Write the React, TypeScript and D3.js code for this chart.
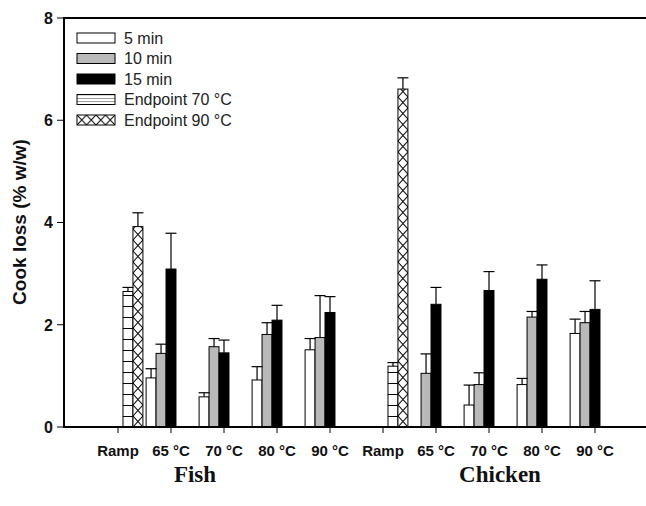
import React from "react";
import * as d3 from "d3";

const categories = ["Ramp", "65 °C", "70 °C", "80 °C", "90 °C", "Ramp", "65 °C", "70 °C", "80 °C", "90 °C"];
const groupLabels = ["Fish", "Chicken"];
const series = ["5 min", "10 min", "15 min", "Endpoint 70 °C", "Endpoint 90 °C"];

const min5 = [null, 0.96, 0.59, 0.92, 1.51, null, null, 0.43, 0.83, 1.83];
const min5Err = [null, 0.18, 0.08, 0.26, 0.22, null, null, 0.39, 0.12, 0.28];
const min10 = [null, 1.44, 1.57, 1.81, 1.75, null, 1.05, 0.83, 2.15, 2.04];
const min10Err = [null, 0.18, 0.16, 0.23, 0.82, null, 0.38, 0.23, 0.11, 0.22];
const min15 = [null, 3.09, 1.45, 2.09, 2.24, null, 2.40, 2.67, 2.89, 2.30];
const min15Err = [null, 0.70, 0.25, 0.29, 0.31, null, 0.33, 0.37, 0.28, 0.56];
const end70 = [2.65, null, null, null, null, 1.19, null, null, null, null];
const end70Err = [0.08, null, null, null, null, 0.07, null, null, null, null];
const end90 = [3.92, null, null, null, null, 6.61, null, null, null, null];
const end90Err = [0.27, null, null, null, null, 0.22, null, null, null, null];

const yTicks = [0, 2, 4, 6, 8];

const seriesValues = [min5, min10, min15, end70, end90];
const seriesErrors = [min5Err, min10Err, min15Err, end70Err, end90Err];
const seriesFill = ["#ffffff", "#b9b9b9", "#000000", "url(#hatch70)", "url(#hatch90)"];
const legendFill = ["#ffffff", "#b9b9b9", "#000000", "url(#lhatch70)", "url(#lhatch90)"];

const W = 646, H = 506;
const x = d3.scaleLinear().domain([0, 11]).range([65, 648]);
const y = d3.scaleLinear().domain([0, 8]).range([427, 18]);
const inner = d3.scaleBand<string>().domain(series).range([-0.47, 0.47]);

const sans = "'Liberation Sans', Arial, sans-serif";
const serif = "'Liberation Serif', 'Times New Roman', serif";

export default function App() {
  const bars: React.ReactNode[] = [];
  const errs: React.ReactNode[] = [];
  const patterns: React.ReactNode[] = [];
  series.forEach((s, si) => {
    seriesValues[si].forEach((v, ci) => {
      if (v == null) return;
      const x0 = x(ci + 1 + (inner(s) as number));
      const x1 = x(ci + 1 + (inner(s) as number) + inner.bandwidth());
      const bw = x1 - x0;
      const top = y(v);
      let fill = seriesFill[si];
      if (si === 4) {
        const id = `h90_${ci}`;
        patterns.push(
          <pattern key={id} id={id} patternUnits="userSpaceOnUse" x={x0} y={y(0)} width={bw} height={11}>
            <rect width={bw} height={11} fill="#fff" />
            <path d={`M0,0L${bw},11M${bw},0L0,11`} stroke="#000" strokeWidth={1} />
          </pattern>
        );
        fill = `url(#${id})`;
      }
      bars.push(
        <rect key={`b${si}_${ci}`} x={x0} y={top} width={bw} height={y(0) - top} fill={fill} stroke="#000" strokeWidth={1} />
      );
      const e = seriesErrors[si][ci];
      if (e != null) {
        const cx = (x0 + x1) / 2;
        const ye = y(v + e);
        errs.push(
          <g key={`e${si}_${ci}`} stroke="#000" strokeWidth={1.2}>
            <line x1={cx} x2={cx} y1={top} y2={ye} />
            <line x1={cx - 5.5} x2={cx + 5.5} y1={ye} y2={ye} />
          </g>
        );
      }
    });
  });

  const legendRowY = (i: number) => 33 + i * 20.5;

  return (
    <svg width={W} height={H} style={{ position: "absolute", left: 0, top: 0, background: "#fff" }}>
      <defs>
        <pattern id="hatch70" patternUnits="userSpaceOnUse" x={0} y={427} width={20} height={11}>
          <rect width={20} height={11} fill="#fff" />
          <line x1={0} x2={20} y1={0.5} y2={0.5} stroke="#000" strokeWidth={1} />
        </pattern>
        <pattern id="lhatch70" patternUnits="userSpaceOnUse" x={0} y={legendRowY(3)} width={40} height={3.4}>
          <rect width={40} height={3.4} fill="#fff" />
          <line x1={0} x2={40} y1={0} y2={0} stroke="#000" strokeWidth={1} />
        </pattern>
        <pattern id="lhatch90" patternUnits="userSpaceOnUse" x={77} y={legendRowY(4)} width={9.5} height={10}>
          <rect width={9.5} height={10} fill="#fff" />
          <path d="M0,0L9.5,10M9.5,0L0,10" stroke="#000" strokeWidth={1} />
        </pattern>
        {patterns}
      </defs>

      {bars}
      {errs}

      {/* axes frame */}
      <g stroke="#000" strokeWidth={2} fill="none">
        <line x1={64} x2={W} y1={18} y2={18} />
        <line x1={64} x2={64} y1={17} y2={428} />
        <line x1={63} x2={W} y1={427} y2={427} />
      </g>

      {/* y ticks */}
      {yTicks.map((t) => (
        <g key={`yt${t}`}>
          <line x1={57} x2={64} y1={y(t)} y2={y(t)} stroke="#000" strokeWidth={1} />
          <text x={53} y={y(t)} dy="0.36em" textAnchor="end" fontFamily={sans} fontWeight="bold" fontSize={16} fill="#111">
            {t}
          </text>
        </g>
      ))}

      {/* x ticks */}
      {categories.map((c, i) => (
        <g key={`xt${i}`}>
          <line x1={x(i + 1)} x2={x(i + 1)} y1={427} y2={433} stroke="#000" strokeWidth={1} />
          <text x={x(i + 1)} y={456} textAnchor="middle" fontFamily={sans} fontWeight="bold" fontSize={15} fill="#111">
            {c}
          </text>
        </g>
      ))}

      {/* group labels */}
      <text x={195} y={482} textAnchor="middle" fontFamily={serif} fontWeight="bold" fontSize={23} fill="#111">
        {groupLabels[0]}
      </text>
      <text x={500} y={482} textAnchor="middle" fontFamily={serif} fontWeight="bold" fontSize={23} fill="#111">
        {groupLabels[1]}
      </text>

      {/* y title */}
      <text transform="translate(26,222) rotate(-90)" textAnchor="middle" fontFamily={sans} fontWeight="bold" fontSize={19} fill="#111">
        Cook loss (% w/w)
      </text>

      {/* legend */}
      {series.map((s, i) => (
        <g key={`lg${i}`}>
          <rect x={77} y={legendRowY(i)} width={38} height={10} fill={legendFill[i]} stroke="#000" strokeWidth={1} />
          <text x={124} y={legendRowY(i) + 5} dy="0.36em" fontFamily={sans} fontSize={16} fill="#222">
            {s}
          </text>
        </g>
      ))}
    </svg>
  );
}
